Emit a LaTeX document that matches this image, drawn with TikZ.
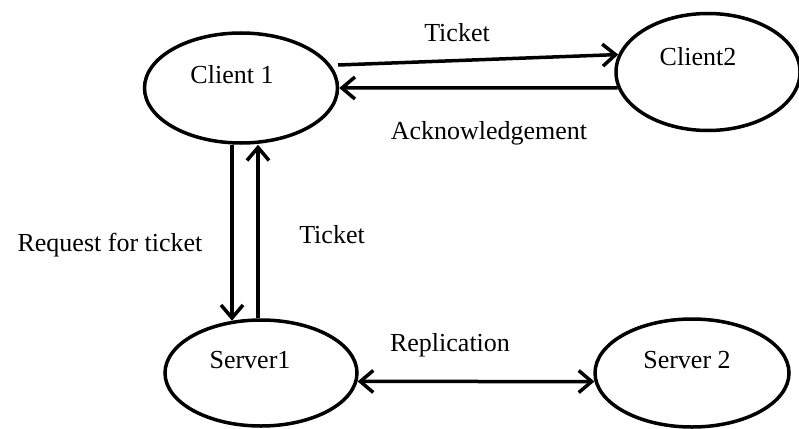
\documentclass[tikz,border=0pt]{standalone}
\usepackage{fontspec}
\setmainfont{Liberation Serif}
\usetikzlibrary{shapes.geometric,arrows.meta}
\tikzset{
    bubble/.style={ellipse, draw, line width=3.5pt, inner sep=0pt},
    lbl/.style={font=\fontsize{26}{30}\selectfont, inner sep=0pt},
    arr/.style={line width=3.5pt, -{Straight Barb[length=13pt,width=22pt]}},
    dblarr/.style={line width=3.5pt, {Straight Barb[length=13pt,width=22pt]}-{Straight Barb[length=13pt,width=22pt]}}
}
\begin{document}
\begin{tikzpicture}[x=1pt,y=-1pt]
              \useasboundingbox (0,0) rectangle (799,428);
              % ellipses: name/x/y/half width/half height
              \foreach \N/\X/\Y/\Rx/\Ry in {c1/241/88/96.5/55, c2/708/72/92/58.5, s1/261/373/96/53, s2/692/373/97/54}
                  {
                  \node[bubble, minimum width=2*\Rx, minimum height=2*\Ry] (\N) at (\X,\Y) {};
                  }
              % names inside the ellipses
              \node[lbl] (c1txt) at (232,75) {Client 1};
              \node[lbl] (c2txt) at (698,57) {Client2};
              \node[lbl] (s1txt) at (250,360) {Server1};
              \node[lbl] (s2txt) at (687,360) {Server 2};
              %
              % client to client
              \draw[arr] ([shift={(97,-23)}]c1.center) -- (c2.169);
              \draw[arr] (c2.190) -- (c1.east);
              \node[lbl] (tkttop) at (457,33) {Ticket};
              \node[lbl] (ack) at (489,133) {Acknowledgement};
              %
              % client to server
              \draw[arr] (c1.south -| s1.119) -- (s1.119);
              \draw[arr] ([xshift=-3pt]s1.north) -- ([xshift=-3pt]s1.north |- c1.south);
              \node[lbl] (req) at (110,245) {Request for ticket};
              \node[lbl] (tktmid) at (332,235) {Ticket};
              %
              % server to server
              \draw[dblarr] (s1.-5) -- (s2.185);
              \node[lbl] (repl) at (450,345) {Replication};
\end{tikzpicture}
\end{document}
